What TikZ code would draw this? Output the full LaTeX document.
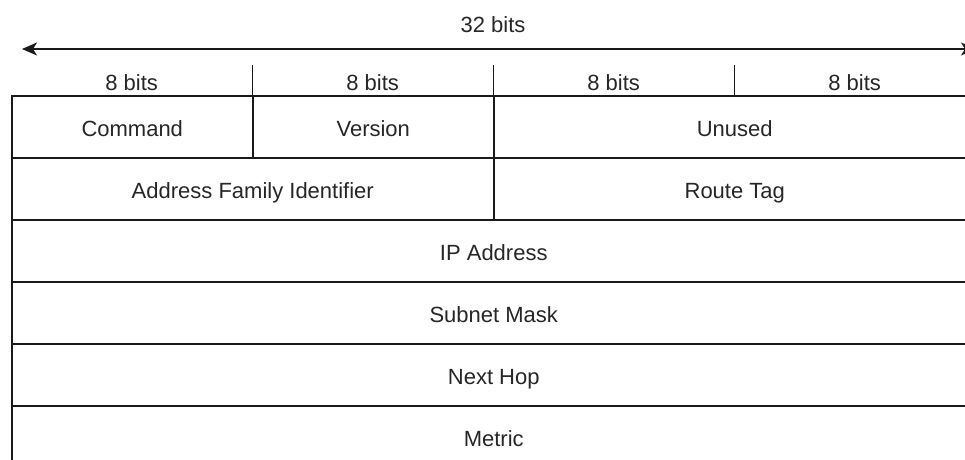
\documentclass[tikz,border=0pt]{standalone}
\usepackage{fontspec}
\setmainfont{Liberation Sans}
\usetikzlibrary{arrows.meta}
\definecolor{linegray}{HTML}{1A1A1A}
\tikzset{
  label font/.style={font=\fontsize{22}{26}\selectfont, text=black!85,
    text height=20pt, text depth=0pt},
  field/.style={draw=linegray, line width=1.5pt, anchor=north west, inner sep=0pt,
    minimum height=62pt, label font},
  f1/.style={field, minimum width=241pt},
  f2/.style={field, minimum width=482pt},
  f4/.style={field, minimum width=964pt},
  bitlabel/.style={anchor=north west, inner sep=0pt, minimum width=241pt,
    minimum height=30pt, label font},
  divider/.style={draw=linegray, line width=1.5pt},
  span/.style={draw=linegray, line width=1.4pt,
    {Stealth[length=15pt,width=13pt,inset=4pt]}-{Stealth[length=15pt,width=13pt,inset=4pt]}},
}
\begin{document}
\begin{tikzpicture}[x=1pt,y=-1pt]
  \useasboundingbox (0,0) rectangle (965,459);
  \clip (0,0) rectangle (965,459);

  % overall width
  \node[label font, inner sep=0pt] (total) at (493,22) {32 bits};
  \coordinate (spanL) at (22,49);
  \coordinate (spanR) at (976,49);
  \draw[span] (spanL) -- (spanR);

  % octet labels
  \node[bitlabel] (b1) at (11,65)  {8 bits};
  \node[bitlabel] (b2) at (252,65) {8 bits};
  \node[bitlabel] (b3) at (493,65) {8 bits};
  \node[bitlabel] (b4) at (734,65) {8 bits};
  \draw[divider] (b1.north east) -- (b1.south east);
  \draw[divider] (b2.north east) -- (b2.south east);
  \draw[divider] (b3.north east) -- (b3.south east);

  % header fields
  \node[f1] (cmd)    at (11,95)   {Command};
  \node[f1] (ver)    at (252,95)  {Version};
  \node[f2] (unused) at (493,95)  {Unused};
  \node[f2] (afi)    at (11,157)  {Address Family Identifier};
  \node[f2] (tag)    at (493,157) {Route Tag};
  \node[f4] (ip)     at (11,219)  {IP Address};
  \node[f4] (mask)   at (11,281)  {Subnet Mask};
  \node[f4] (hop)    at (11,343)  {Next Hop};
  \node[f4] (metric) at (11,405)  {Metric};
\end{tikzpicture}
\end{document}
